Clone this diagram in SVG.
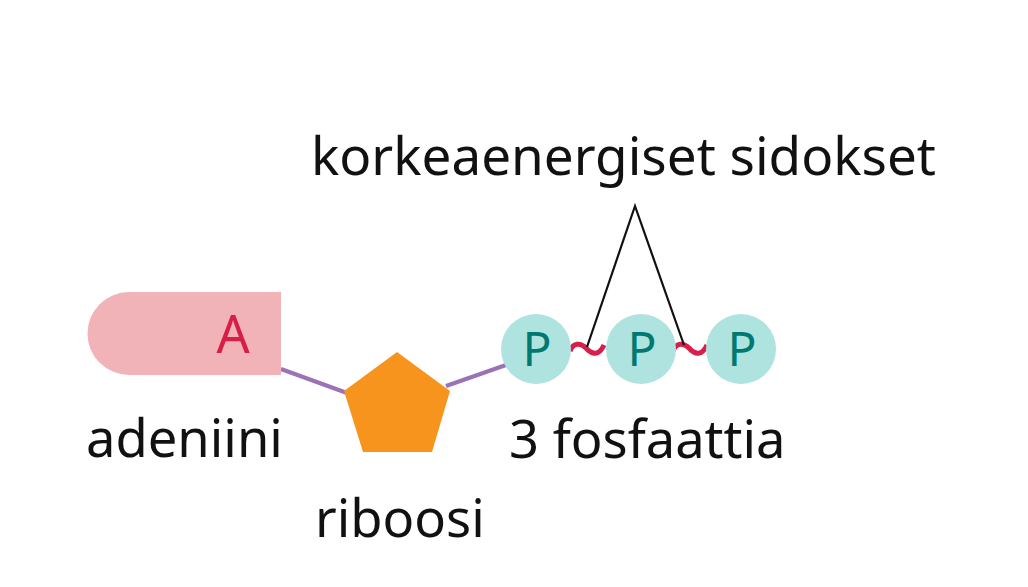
<svg xmlns="http://www.w3.org/2000/svg" width="1028" height="587" viewBox="0 0 1028 587">
<style>
.lbl{font-family:"Noto Sans","Open Sans",sans-serif;font-size:52.5px;fill:#111}
.pt{font-family:"Noto Sans","Open Sans",sans-serif;font-size:48px;fill:#007a70;text-anchor:middle}
.circ{fill:#aee3df}
.bond{stroke:#9b72b6;stroke-width:4;fill:none}
.wave{stroke:#d81e4a;stroke-width:5;fill:none;stroke-linecap:butt}
</style>
<rect width="1028" height="587" fill="#fff"/>
<g id="connectors">
<line class="bond" x1="281" y1="369" x2="347" y2="393"/>
<line class="bond" x1="446" y1="386" x2="506" y2="365"/>
<path class="wave" d="M570 351 C573 343 580 342 586 348 C592 355 599 356 604 345"/>
<path class="wave" d="M673 351 C676 343 683 342 689 348 C695 355 702 356 707 345"/>
<polyline points="587,347 635,206 684,345" fill="none" stroke="#111" stroke-width="2.2"/>
</g>
<g id="adeniini">
<path d="M129 292 H281 V375 H129 A41.5 41.5 0 0 1 129 292 Z" fill="#f1b3b7"/>
<text x="233" y="353" class="pt" style="fill:#d61f47;font-size:52px">A</text>
<text x="86" y="457" class="lbl">adeniini</text>
</g>
<g id="riboosi">
<polygon points="397,352 450,391 432,452 363,452 344,391" fill="#f7941d"/>
<text x="315" y="537" class="lbl">riboosi</text>
</g>
<g id="fosfaatit">
<circle class="circ" cx="536" cy="349" r="35"/>
<circle class="circ" cx="641" cy="349" r="35"/>
<circle class="circ" cx="741" cy="349" r="35"/>
<text x="537" y="366" class="pt">P</text>
<text x="642" y="366" class="pt">P</text>
<text x="742" y="366" class="pt">P</text>
<text x="509" y="458" class="lbl">3 fosfaattia</text>
</g>
<g id="sidokset">
<text x="311" y="175" class="lbl" style="font-size:53px">korkeaenergiset sidokset</text>
</g>
</svg>
